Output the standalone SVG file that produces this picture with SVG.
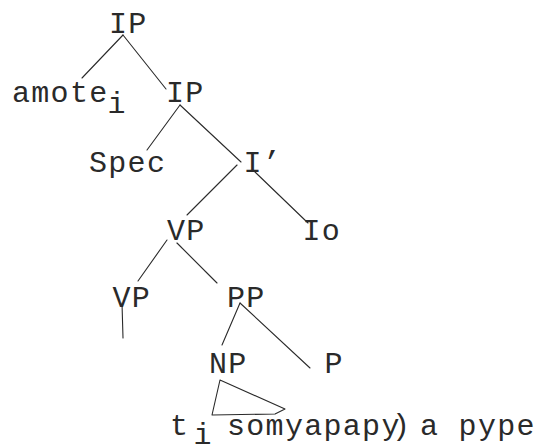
<svg xmlns="http://www.w3.org/2000/svg" width="538" height="448" viewBox="0 0 538 448">
<style>
  text { font-family: "Liberation Mono", "Courier New", monospace; font-size: 30px; fill: #2a2a2a; letter-spacing: 1.3px; }
  .edge { stroke: #2a2a2a; stroke-width: 1.1; fill: none; stroke-linecap: round; stroke-linejoin: round; }
</style>
<rect width="538" height="448" fill="#fff"/>
<g id="connectors">
  <line class="edge" x1="123" y1="35" x2="82" y2="78"/>
  <line class="edge" x1="123" y1="35" x2="166" y2="89"/>
  <line class="edge" x1="180" y1="105" x2="147" y2="150"/>
  <line class="edge" x1="180" y1="105" x2="241" y2="162"/>
  <line class="edge" x1="237" y1="165" x2="187" y2="215"/>
  <line class="edge" x1="255" y1="172" x2="308" y2="223"/>
  <line class="edge" x1="167" y1="240" x2="138" y2="281"/>
  <line class="edge" x1="177" y1="243" x2="217" y2="283"/>
  <line class="edge" x1="122" y1="303" x2="123" y2="338"/>
  <line class="edge" x1="240" y1="303" x2="222" y2="345"/>
  <line class="edge" x1="240" y1="303" x2="310" y2="368"/>
  <polygon class="edge" points="220,380 212,415 275,414 285,409"/>
</g>
<g id="n-ip-top"><text x="109" y="33">IP</text></g>
<g id="n-amote"><text x="12" y="102">amote</text><text x="107.5" y="113">i</text></g>
<g id="n-ip2"><text x="166" y="102">IP</text></g>
<g id="n-spec"><text x="89" y="172">Spec</text></g>
<g id="n-ibar"><text x="243.5" y="172">I’</text></g>
<g id="n-vp1"><text x="167" y="240">VP</text></g>
<g id="n-io"><text x="302.5" y="240">Io</text></g>
<g id="n-vp2"><text x="112.5" y="307">VP</text></g>
<g id="n-pp"><text x="227" y="307">PP</text></g>
<g id="n-np"><text x="209" y="373">NP</text></g>
<g id="n-p"><text x="324.5" y="373">P</text></g>
<g id="n-leaf"><text x="170" y="435">t</text><text x="193.5" y="444">i</text><text x="227" y="435">somyapapy<tspan x="392">)</tspan><tspan x="420">a pype</tspan></text></g>
</svg>
